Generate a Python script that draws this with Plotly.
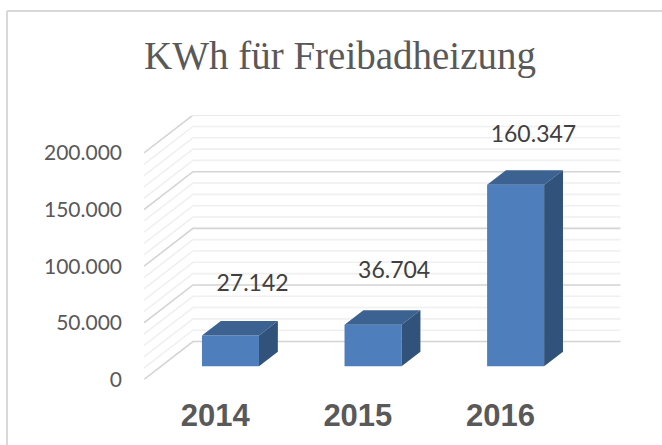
import plotly.graph_objects as go

W, H = 662, 458
K = H / 445  # target pixel rows -> page rows
title = "KWh für Freibadheizung"
years = ["2014", "2015", "2016"]
kwh = [27142, 36704, 160347]
major_ticks = [0, 50000, 100000, 150000, 200000]
minor_ticks = [10000, 20000, 30000, 40000, 60000, 70000, 80000, 90000,
               110000, 120000, 130000, 140000, 160000, 170000, 180000, 190000]

# oblique projection expressed in axis units
depth_x, depth_y = 0.3436, 33450
near_x, near_y, span = 0.31, 0.345, 0.385
bar_w = 0.40
label_dx = [0.155, 0.148, 0.125]
label_dy = [44100, 46700, 43200]

x_range = [-0.5, 2.5 + depth_x]
y_range = [0, 233100]
pos = list(range(len(years)))
dx0, dy0 = near_x * depth_x, near_y * depth_y
dx1, dy1 = span * depth_x, span * depth_y
centers = [p + dx0 for p in pos]


def wall(vals):
    xs, ys = [], []
    for v in vals:
        xs += [x_range[0], x_range[0] + depth_x, x_range[1], None]
        ys += [v, v + depth_y, v + depth_y, None]
    return xs, ys


fig = go.Figure()
for vals, col in ((minor_ticks, "#f0f0f0"), (major_ticks, "#d4d4d4")):
    xs, ys = wall(vals)
    fig.add_trace(go.Scatter(x=xs, y=ys, mode="lines", line=dict(color=col, width=1.6),
                             hoverinfo="skip", xaxis="x", yaxis="y"))

fig.add_trace(go.Bar(x=centers, y=kwh, base=[dy0] * 3, width=bar_w, marker_color="#4e7fbc",
                     marker_line_width=0, xaxis="x2", yaxis="y2"))

for c, v in zip(centers, kwh):
    l, r, b, t = c - bar_w / 2, c + bar_w / 2, dy0, dy0 + v
    fig.add_trace(go.Scatter(x=[l, r, r + dx1, l + dx1, l], y=[t, t, t + dy1, t + dy1, t],
                             mode="lines", fill="toself", fillcolor="#3b6291", line=dict(width=0),
                             hoverinfo="skip", xaxis="x2", yaxis="y2"))
    fig.add_trace(go.Scatter(x=[r, r + dx1, r + dx1, r, r], y=[b, b + dy1, t + dy1, t, b],
                             mode="lines", fill="toself", fillcolor="#31527a", line=dict(width=0),
                             hoverinfo="skip", xaxis="x2", yaxis="y2"))

fig.add_trace(go.Scatter(x=[c + d for c, d in zip(centers, label_dx)],
                         y=[dy0 + v + d for v, d in zip(kwh, label_dy)],
                         mode="text", text=[f"{v:,}".replace(",", ".") for v in kwh],
                         textposition="middle center",
                         textfont=dict(family="Lato", size=23, color="#404040"),
                         hoverinfo="skip", xaxis="x2", yaxis="y2"))

fig.update_layout(
    width=W, height=H, autosize=False, margin=dict(l=0, r=0, t=0, b=0, pad=0), showlegend=False,
    paper_bgcolor="white", plot_bgcolor="white", separators=",.",
    title=dict(text=title, x=340 / W, xanchor="center", xref="paper", y=1 - 55 * K / H, yanchor="middle",
               yref="paper", font=dict(family="Liberation Serif", size=39, color="#595959")),
    xaxis=dict(domain=[144 / W, 620.7 / W], range=x_range, tickvals=pos, ticktext=years,
               showgrid=False, zeroline=False, showline=False, ticks="", ticklabelstandoff=15,
               tickfont=dict(family="Liberation Sans", size=31, color="#595959", weight="bold")),
    yaxis=dict(domain=[1 - 377.7 * K / H, 1 - 115 * K / H], range=y_range, tickvals=major_ticks,
               tickformat=",d", showgrid=False, zeroline=False, showline=False, ticks="",
               ticklabelstandoff=21, tickfont=dict(family="Lato", size=21, color="#595959")),
    xaxis2=dict(overlaying="x", range=x_range, visible=False, anchor="y2"),
    yaxis2=dict(overlaying="y", range=y_range, visible=False, anchor="x2"),
    shapes=[dict(type="line", xref="paper", yref="paper", x0=7 / W, x1=1, y0=1 - 11 * K / H, y1=1 - 11 * K / H,
                 line=dict(color="#d9d9d9", width=2)),
            dict(type="line", xref="paper", yref="paper", x0=7 / W, x1=7 / W, y0=0, y1=1 - 11 * K / H,
                 line=dict(color="#d9d9d9", width=2))],
)
fig.write_html("out.html", config={"displayModeBar": False},
               post_script="document.documentElement.style.overflow='hidden';document.body.style.margin='0';document.body.style.overflow='hidden';")
